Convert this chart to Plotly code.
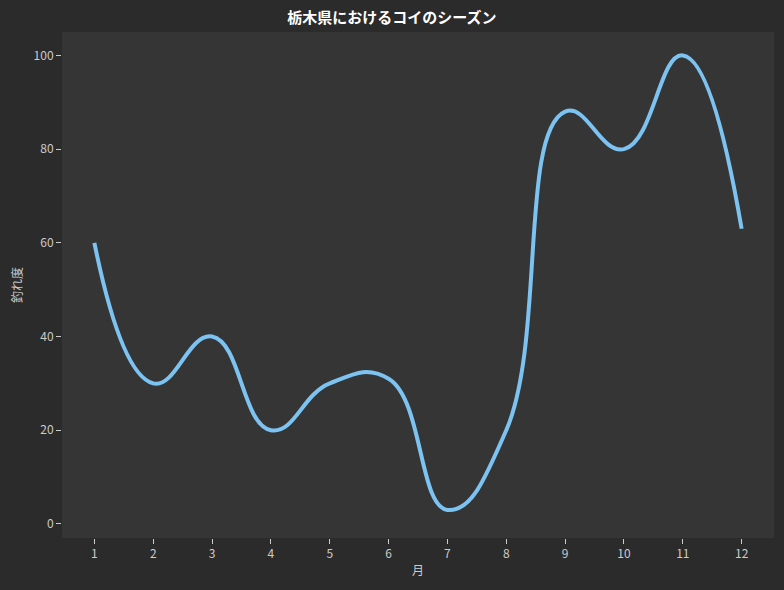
import plotly.graph_objects as go

months = [1, 2, 3, 4, 5, 6, 7, 8, 9, 10, 11, 12]
catch_rate = [60, 30, 40, 20, 30, 31, 3, 20, 88, 80, 100, 63]

title_text = "栃木県におけるコイのシーズン"
x_title = "月"
y_title = "釣れ度"

font_family = "Noto Sans CJK JP"

fig = go.Figure()
fig.add_trace(go.Scatter(
    x=months,
    y=catch_rate,
    mode="lines",
    line=dict(color="#7cc3f2", width=4, shape="spline", smoothing=1.3),
    showlegend=False,
))

fig.update_layout(
    width=784,
    height=590,
    paper_bgcolor="#2b2b2b",
    plot_bgcolor="#353535",
    font=dict(family=font_family, color="#cccccc", size=12),
    title=dict(text="<b>" + title_text + "</b>", x=0.5, xanchor="center",
               y=0.97, yanchor="middle",
               font=dict(size=15, color="#ffffff")),
    margin=dict(l=62, r=10, t=32, b=52),
)

fig.update_xaxes(
    range=[0.45, 12.55],
    tickmode="array",
    tickvals=months,
    ticks="outside",
    ticklen=5,
    tickcolor="#cccccc",
    showgrid=False,
    zeroline=False,
    title=dict(text=x_title, standoff=6, font=dict(size=12)),
)
fig.update_yaxes(
    range=[-3, 105],
    tickvals=[0, 20, 40, 60, 80, 100],
    ticks="outside",
    ticklen=5,
    tickcolor="#cccccc",
    showgrid=False,
    zeroline=False,
    title=dict(text=y_title, standoff=8, font=dict(size=12)),
)

# the page body has a default margin; drop it so the figure fills the window
fig.write_html(
    "out.html",
    config={"displayModeBar": False},
    post_script="document.body.style.margin='0';",
)
